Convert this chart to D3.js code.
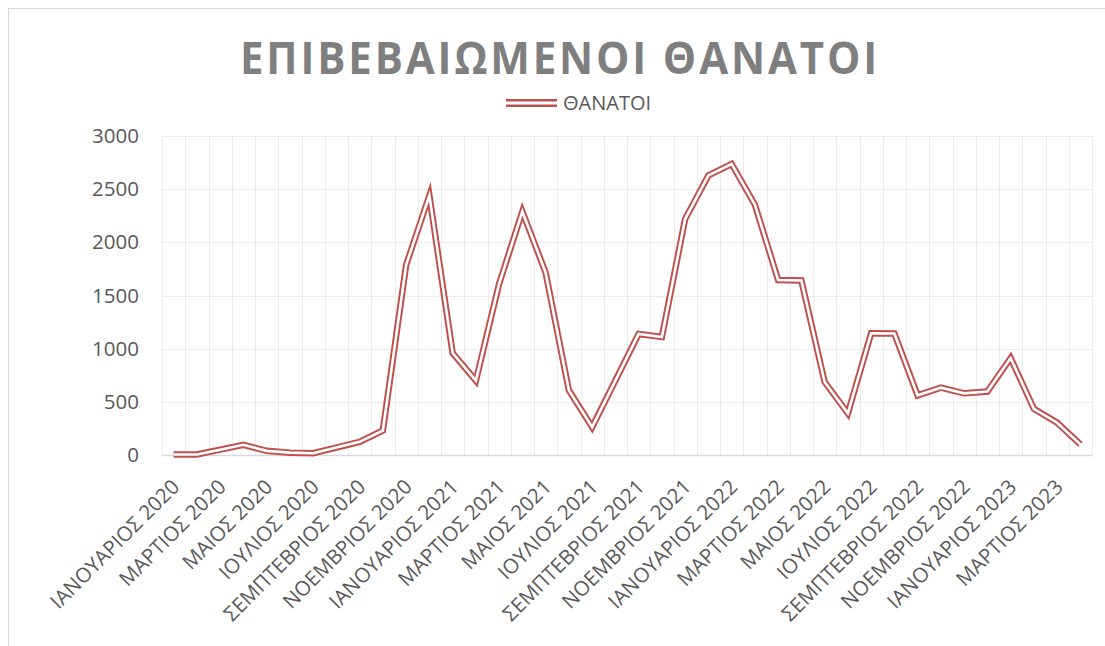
<!DOCTYPE html>
<html>
<head>
<meta charset="utf-8">
<script src="https://cdn.jsdelivr.net/npm/d3@7"></script>
<style>
  body { margin: 0; background: #fff; }
  svg { display: block; }
</style>
</head>
<body>
<script>
// months Jan 2020 .. Apr 2023
const months = ["ΙΑΝΟΥΑΡΙΟΣ", "ΦΕΒΡΟΥΑΡΙΟΣ", "ΜΑΡΤΙΟΣ", "ΑΠΡΙΛΙΟΣ", "ΜΑΙΟΣ", "ΙΟΥΝΙΟΣ",
  "ΙΟΥΛΙΟΣ", "ΑΥΓΟΥΣΤΟΣ", "ΣΕΜΠΤΕΒΡΙΟΣ", "ΟΚΤΩΒΡΙΟΣ", "ΝΟΕΜΒΡΙΟΣ", "ΔΕΚΕΜΒΡΙΟΣ"];
const years = [2020, 2021, 2022, 2023];
const categories = [];
years.forEach(y => months.forEach(m => categories.push(m + " " + y)));
categories.length = 40;

const deaths = [5, 5, 50, 96, 39, 22, 17, 70, 124, 230,
  1787, 2440, 959, 699, 1610, 2290, 1715, 608, 263, 700,
  1138, 1110, 2219, 2629, 2737, 2354, 1646, 1641, 687, 392,
  1144, 1142, 561, 633, 580, 597, 912, 435, 304, 100];

const yTicks = [0, 500, 1000, 1500, 2000, 2500, 3000];

const width = 1105, height = 646;
const plotLeft = 162, plotRight = 1092, plotTop = 136, plotBottom = 455;
const red = "#c0504d";
const font = "'Open Sans', sans-serif";

const svg = d3.select("body").append("svg")
    .attr("width", width)
    .attr("height", height);

// chart border
svg.append("rect")
    .attr("x", 8.5).attr("y", 8.5)
    .attr("width", 1110).attr("height", 650)
    .attr("fill", "#fff")
    .attr("stroke", "#d9d9d9");

let x = d3.scaleBand().domain(categories).range([plotLeft, plotRight]);
let y = d3.scaleLinear().domain([0, 3000]).range([plotBottom, plotTop]);

// vertical gridlines on category boundaries
svg.append("g")
    .selectAll("line")
    .data(d3.range(categories.length + 1))
    .enter()
    .append("line")
    .attr("x1", i => Math.round(plotLeft + i * x.step()) + 0.5)
    .attr("x2", i => Math.round(plotLeft + i * x.step()) + 0.5)
    .attr("y1", plotTop).attr("y2", plotBottom)
    .attr("stroke", "#ececec");

// horizontal gridlines
svg.append("g")
    .selectAll("line")
    .data(yTicks.slice(1))
    .enter()
    .append("line")
    .attr("x1", plotLeft).attr("x2", plotRight)
    .attr("y1", d => Math.round(y(d)) + 0.5)
    .attr("y2", d => Math.round(y(d)) + 0.5)
    .attr("stroke", "#ececec");

// y axis labels
const yAxis = svg.append("g")
    .attr("transform", "translate(" + plotLeft + ",0)")
    .call(d3.axisLeft(y).tickValues(yTicks).tickFormat(d3.format("d"))
        .tickSize(0).tickPadding(23));
yAxis.select(".domain").remove();
yAxis.selectAll("text")
    .attr("font-family", font)
    .attr("font-size", 20.5)
    .attr("fill", "#595959");

// x axis, every second month labelled
const xAxis = svg.append("g")
    .attr("transform", "translate(0," + plotBottom + ")")
    .call(d3.axisBottom(x)
        .tickValues(categories.filter((d, i) => i % 2 === 0))
        .tickSize(0));
xAxis.select(".domain")
    .attr("stroke", "#d9d9d9")
    .attr("stroke-width", 1.3);
xAxis.selectAll("text")
    .attr("font-family", font)
    .attr("font-size", 20.5)
    .attr("fill", "#595959")
    .attr("text-anchor", "end")
    .attr("dy", "0.35em")
    .attr("y", 0)
    .attr("transform", "translate(2,28) rotate(-45)");

// double line: wide red stroke with a white core
const line = d3.line()
    .x((d, i) => x(categories[i]) + x.bandwidth() / 2)
    .y(d => y(d));

svg.append("path")
    .datum(deaths)
    .attr("d", line)
    .attr("fill", "none")
    .attr("stroke", red)
    .attr("stroke-width", 6.5)
    .attr("stroke-linejoin", "miter")
    .attr("stroke-miterlimit", 20);

svg.append("path")
    .datum(deaths)
    .attr("d", line)
    .attr("fill", "none")
    .attr("stroke", "#fff")
    .attr("stroke-width", 2.6)
    .attr("stroke-linejoin", "miter")
    .attr("stroke-miterlimit", 20);

// title
svg.append("text")
    .attr("x", 560)
    .attr("y", 74)
    .attr("text-anchor", "middle")
    .attr("font-family", font)
    .attr("font-weight", "bold")
    .attr("font-size", 44)
    .attr("letter-spacing", 3)
    .attr("fill", "#7f7f7f")
    .attr("textLength", 640)
    .attr("lengthAdjust", "spacingAndGlyphs")
    .text("ΕΠΙΒΕΒΑΙΩΜΕΝΟΙ ΘΑΝΑΤΟΙ");

// legend
const legend = svg.append("g").attr("transform", "translate(506,103)");
legend.append("line")
    .attr("x1", 0).attr("x2", 51)
    .attr("stroke", red).attr("stroke-width", 8);
legend.append("line")
    .attr("x1", 0).attr("x2", 51)
    .attr("stroke", "#fff").attr("stroke-width", 3);
legend.append("text")
    .attr("x", 57)
    .attr("y", 7)
    .attr("font-family", font)
    .attr("font-size", 20)
    .attr("fill", "#595959")
    .text("ΘΑΝΑΤΟΙ");
</script>
</body>
</html>
